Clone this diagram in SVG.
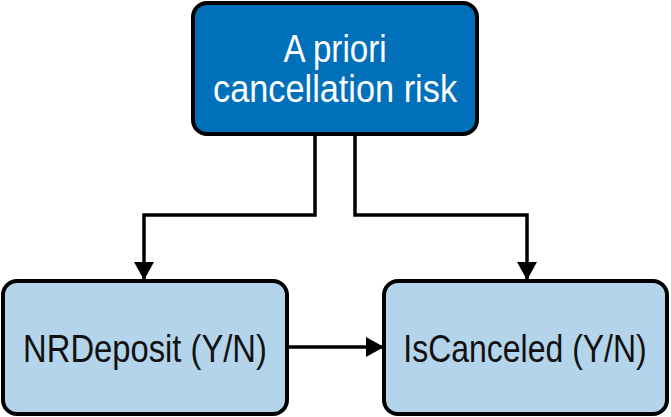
<svg xmlns="http://www.w3.org/2000/svg" width="671" height="417" viewBox="0 0 671 417">
<defs>
<marker id="arr" markerWidth="20" markerHeight="20" refX="17" refY="10" orient="auto" markerUnits="userSpaceOnUse">
<path d="M0,0 L18,10 L0,20 Z" fill="#000"/>
</marker>
<style>
.node rect{stroke:#000;stroke-width:4}
.top rect{fill:#0070BA}
.low rect{fill:#B3D4EA}
text{font-family:"Liberation Sans",Arial,sans-serif;font-size:39px;text-anchor:middle}
.top text{fill:#fff}
.low text{fill:#111}
.conn path{fill:none;stroke:#000;stroke-width:3.5}
</style>
</defs>
<rect width="671" height="417" fill="#fff"/>
<g class="conn" id="connectors">
<path d="M315,135 V215 H144 V279" marker-end="url(#arr)"/>
<path d="M355,135 V215 H527 V279" marker-end="url(#arr)"/>
<path d="M289,347 H383" marker-end="url(#arr)"/>
</g>
<g class="node top" id="node-risk">
<rect x="193" y="3" width="284" height="131" rx="14"/>
<text transform="translate(335,62) scale(0.85,1)">A priori</text>
<text transform="translate(335,102) scale(0.88,1)">cancellation risk</text>
</g>
<g class="node low" id="node-nrdeposit">
<rect x="3" y="281" width="284" height="133" rx="14"/>
<text transform="translate(145,362) scale(0.84,1)">NRDeposit (Y/N)</text>
</g>
<g class="node low" id="node-iscanceled">
<rect x="384" y="281" width="283" height="133" rx="14"/>
<text transform="translate(525,362) scale(0.82,1)">IsCanceled (Y/N)</text>
</g>
</svg>
